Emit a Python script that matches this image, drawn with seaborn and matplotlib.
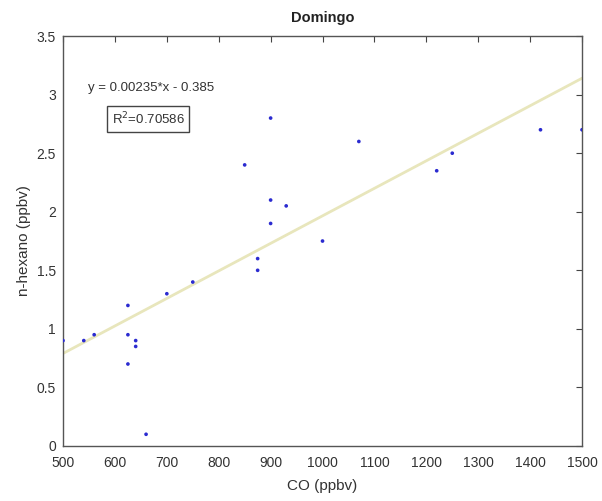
import numpy as np
import pandas as pd
import seaborn as sns
import matplotlib
matplotlib.use("Agg")
import matplotlib.pyplot as plt

# CO vs n-hexane samples (Sunday)
co_ppbv = [500, 540, 560, 625, 625, 625, 640, 640, 660, 700, 750, 850,
           875, 875, 900, 900, 900, 930, 1000, 1070, 1220, 1250, 1420, 1500]
hexano_ppbv = [0.9, 0.9, 0.95, 1.2, 0.95, 0.7, 0.9, 0.85, 0.1, 1.3, 1.4, 2.4,
               1.6, 1.5, 2.8, 2.1, 1.9, 2.05, 1.75, 2.6, 2.35, 2.5, 2.7, 2.7]

# Linear fit coefficients shown in the annotation
slope = 0.00235
intercept = -0.385
r2 = 0.70586

x_ticks = [500, 600, 700, 800, 900, 1000, 1100, 1200, 1300, 1400, 1500]
y_ticks = [0, 0.5, 1, 1.5, 2, 2.5, 3, 3.5]

df = pd.DataFrame({"CO": co_ppbv, "hexano": hexano_ppbv})

sns.set_theme(style="white")
plt.rcParams["font.family"] = ["Liberation Sans", "DejaVu Sans"]

fig = plt.figure(figsize=(6.02, 5.01), dpi=100)
ax = fig.add_axes([0.1047, 0.1098, 0.8621, 0.8182])

fit_x = np.array([x_ticks[0], x_ticks[-1]])
fit_y = slope * fit_x + intercept
sns.lineplot(x=fit_x, y=fit_y, ax=ax, color="#e8e6bc", linewidth=2.0, zorder=1)

sns.scatterplot(data=df, x="CO", y="hexano", ax=ax, marker=".", s=28,
                color="#2b2bd0", edgecolor="none", zorder=3)

ax.set_xlim(x_ticks[0], x_ticks[-1])
ax.set_ylim(y_ticks[0], y_ticks[-1])
ax.set_xticks(x_ticks)
ax.set_yticks(y_ticks)
ax.set_xticklabels([str(t) for t in x_ticks])
ax.set_yticklabels([f"{t:g}" for t in y_ticks])

ax.tick_params(axis="both", which="both", direction="in", length=4,
               width=0.8, colors="#444444", labelsize=10, labelcolor="#333333",
               top=True, right=True)
ax.tick_params(axis="x", pad=7)
ax.tick_params(axis="y", pad=5)
for sp in ax.spines.values():
    sp.set_color("#555555")
    sp.set_linewidth(1.0)
    sp.set_visible(True)

ax.set_xlabel("CO (ppbv)", fontsize=11, color="#333333", labelpad=7)
ax.set_ylabel("n-hexano (ppbv)", fontsize=11, color="#333333", labelpad=4)
ax.set_title("Domingo", fontsize=10.5, fontweight="bold", color="#222222", pad=10)

ax.text(548, 3.06, f"y = {slope}*x - {abs(intercept)}", fontsize=9.5,
        color="#333333", va="center", ha="left")
ax.text(594, 2.79, f"R$^2$={r2}", fontsize=9.5, color="#333333",
        va="center", ha="left",
        bbox=dict(boxstyle="square,pad=0.35", facecolor="white",
                  edgecolor="#444444", linewidth=1.0))

fig.savefig("out.png", dpi=100, facecolor="white")
